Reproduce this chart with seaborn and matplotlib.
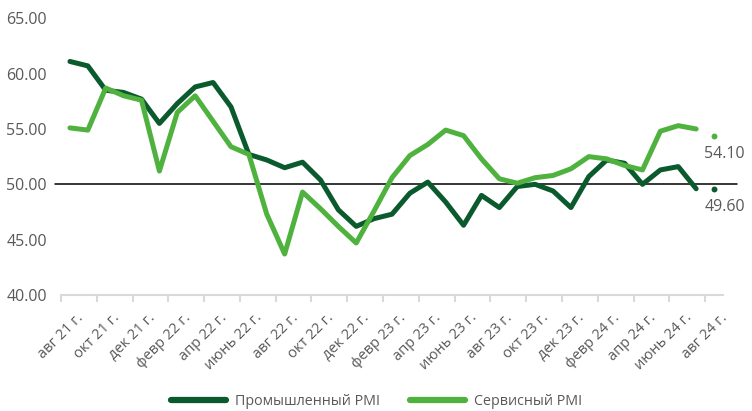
import matplotlib
matplotlib.use("Agg")
import matplotlib.pyplot as plt
import matplotlib.transforms as mtransforms
import numpy as np
import pandas as pd
import seaborn as sns

# Monthly PMI, Aug 2021 .. Jul 2024 (lines); Aug 2024 shown as separate dots
months = [
    "авг 21 г.", "сент 21 г.", "окт 21 г.", "нояб 21 г.", "дек 21 г.",
    "янв 22 г.", "февр 22 г.", "март 22 г.", "апр 22 г.", "май 22 г.", "июнь 22 г.", "июль 22 г.",
    "авг 22 г.", "сент 22 г.", "окт 22 г.", "нояб 22 г.", "дек 22 г.",
    "янв 23 г.", "февр 23 г.", "март 23 г.", "апр 23 г.", "май 23 г.", "июнь 23 г.", "июль 23 г.",
    "авг 23 г.", "сент 23 г.", "окт 23 г.", "нояб 23 г.", "дек 23 г.",
    "янв 24 г.", "февр 24 г.", "март 24 г.", "апр 24 г.", "май 24 г.", "июнь 24 г.", "июль 24 г.",
    "авг 24 г.",
]

industrial = [61.1, 60.7, 58.5, 58.3, 57.7, 55.5, 57.3, 58.8, 59.2, 57.0, 52.7, 52.2,
              51.5, 52.0, 50.4, 47.7, 46.2, 46.9, 47.3, 49.2, 50.2, 48.4, 46.3, 49.0,
              47.9, 49.8, 50.0, 49.4, 47.9, 50.7, 52.2, 51.9, 50.0, 51.3, 51.6, 49.6]
services = [55.1, 54.9, 58.7, 58.0, 57.6, 51.2, 56.5, 58.0, 55.7, 53.4, 52.7, 47.3,
            43.7, 49.3, 47.8, 46.2, 44.7, 47.6, 50.6, 52.6, 53.6, 54.9, 54.4, 52.3,
            50.5, 50.1, 50.6, 50.8, 51.4, 52.5, 52.3, 51.7, 51.3, 54.8, 55.3, 55.0]

last_values = [49.6, 54.4]          # dots for авг 24 г.
last_labels = ["49.60", "54.10"]

series_names = ["Промышленный PMI", "Сервисный PMI"]
colors = ["#0b5a2e", "#50b23e"]

frame = pd.concat([
    pd.DataFrame({"x": np.arange(len(industrial)), "value": industrial, "series": series_names[0]}),
    pd.DataFrame({"x": np.arange(len(services)), "value": services, "series": series_names[1]}),
])

sns.set_theme(style="white")
plt.rcParams["font.family"] = ["Open Sans", "DejaVu Sans"]

fig = plt.figure(figsize=(7.52, 4.11), dpi=100)
ax = fig.add_axes([61 / 752, 1 - 295 / 411, 662 / 752, (295 - 18.3) / 411])

sns.lineplot(data=frame, x="x", y="value", hue="series", palette=colors,
             linewidth=3.6, ax=ax, zorder=3)

last_x = len(months) - 1
for value, label, color in zip(last_values, last_labels, colors):
    ax.scatter([last_x], [value], s=18, color=color, zorder=4, linewidths=0)
    ax.annotate(label, (last_x, value), xytext=(-7, -13), textcoords="offset points",
                ha="left", va="center", fontsize=11.5, color="#595959")

ax.axhline(50, xmin=-0.009, xmax=1.021, color="black", linewidth=1.1, zorder=2, clip_on=False)

ax.set_xlim(-0.5, len(months) - 0.5)
ax.set_ylim(40, 65)
ax.set_yticks(np.arange(40, 66, 5))
ax.set_yticklabels([f"{v:.2f}" for v in np.arange(40, 66, 5)])
ax.tick_params(axis="y", length=0, pad=10, labelsize=11.5, labelcolor="#595959")

# tick marks on category boundaries, labels at every second category centre
ax.set_xticks(np.arange(-0.5, len(months) - 1, 2))
ax.set_xticklabels([])
ax.set_xticks(np.arange(0, len(months), 2), minor=True)
ax.set_xticklabels(months[::2], minor=True, rotation=45, ha="right",
                   rotation_mode="anchor", fontsize=10.5, color="#595959")
ax.tick_params(axis="x", which="major", length=5, width=1.5, color="#d9d9d9", bottom=True)
ax.tick_params(axis="x", which="minor", length=0, pad=11)
shift = mtransforms.ScaledTranslation(6 / 100, 0, fig.dpi_scale_trans)
for lbl in ax.get_xticklabels(minor=True):
    lbl.set_transform(lbl.get_transform() + shift)

ax.set_xlabel("")
ax.set_ylabel("")
sns.despine(ax=ax, left=True)
ax.spines["bottom"].set_color("#d9d9d9")
ax.spines["bottom"].set_linewidth(1.5)

sns.move_legend(ax, "center", bbox_to_anchor=(0.477, -0.385), ncol=2, frameon=False,
                title=None, fontsize=10.3, handlelength=3.85, handletextpad=0.63,
                columnspacing=2.1, borderpad=0.2)
for text in ax.get_legend().get_texts():
    text.set_color("#595959")
for line in ax.get_legend().get_lines():
    line.set_linewidth(4.5)

fig.savefig("out.png", dpi=100)
